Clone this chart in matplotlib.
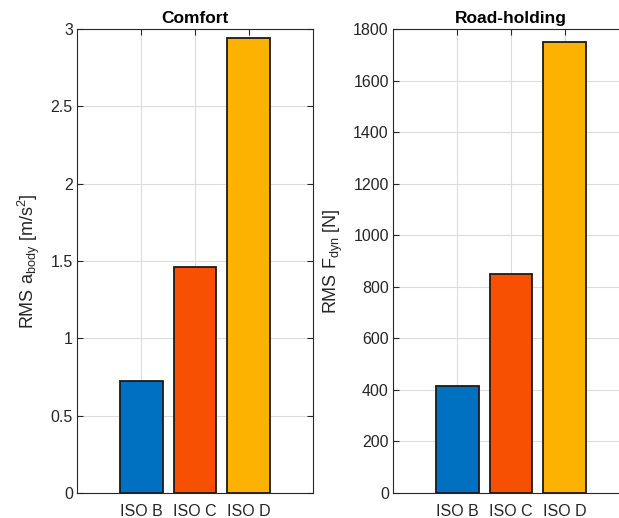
"""
RMS comfort and road-holding indices for ISO road classes.
"""

import matplotlib.pyplot as plt

plt.rcParams['font.family'] = ['Liberation Sans', 'DejaVu Sans']
plt.rcParams['mathtext.fontset'] = 'custom'
plt.rcParams['mathtext.rm'] = 'Liberation Sans'
plt.rcParams['mathtext.it'] = 'Liberation Sans'

road_classes = ["ISO B", "ISO C", "ISO D"]
rms_body_acc = [0.724, 1.463, 2.94]
rms_tyre_force = [415, 851, 1748]
bar_colors = ["#0070C0", "#F75002", "#FDB100"]

positions = [1, 2, 3]

fig = plt.figure(figsize=(6.19, 5.18), dpi=100)
W, H = 619, 518
ax1 = fig.add_axes([77 / W, 25 / H, 236 / W, 464 / H])
ax2 = fig.add_axes([393 / W, 25 / H, 236 / W, 464 / H])


def style_axes(ax):
    ax.set_xlim(-0.2, 4.2)
    ax.set_xticks(positions)
    ax.set_xticklabels(road_classes)
    ax.grid(True, color="#DCDCDC", linewidth=0.8)
    ax.set_axisbelow(True)
    ax.tick_params(direction="in", length=4, width=0.8, colors="#262626",
                   labelsize=11.5, top=True, right=True)
    ax.tick_params(axis="x", pad=8)
    ax.tick_params(axis="y", pad=3)
    for s in ax.spines.values():
        s.set_color("#262626")
        s.set_linewidth(0.8)


ax1.bar(positions, rms_body_acc, width=0.8, color=bar_colors,
        edgecolor="#1a1a1a", linewidth=1.3)
style_axes(ax1)
ax1.set_ylim(0, 3)
ax1.set_yticks([0, 0.5, 1, 1.5, 2, 2.5, 3])
ax1.set_yticklabels(["0", "0.5", "1", "1.5", "2", "2.5", "3"])
ax1.set_title("Comfort", fontweight="bold", fontsize=12.5, pad=4)
ax1.set_ylabel(r"RMS a$_{\mathregular{body}}$ [m/s$^{\mathregular{2}}$]",
               fontsize=13, color="#262626", labelpad=6)

ax2.bar(positions, rms_tyre_force, width=0.8, color=bar_colors,
        edgecolor="#1a1a1a", linewidth=1.3)
style_axes(ax2)
ax2.set_ylim(0, 1800)
ax2.set_yticks(range(0, 1801, 200))
ax2.set_title("Road-holding", fontweight="bold", fontsize=12.5, pad=4)
ax2.set_ylabel(r"RMS F$_{\mathregular{dyn}}$ [N]",
               fontsize=13, color="#262626", labelpad=6)

fig.savefig("out.png", dpi=100)
